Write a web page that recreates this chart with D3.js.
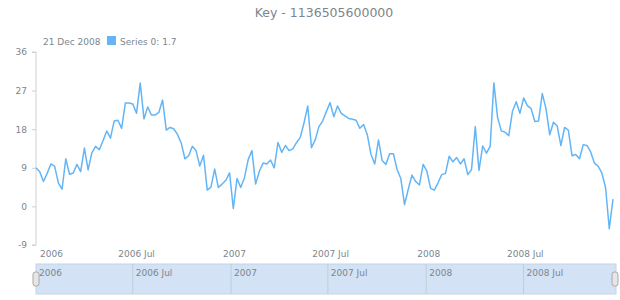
<!DOCTYPE html>
<html>
<head>
<meta charset="utf-8">
<script src="https://cdn.jsdelivr.net/npm/d3@7"></script>
<style>
body { margin: 0; background: #fff; }
text { font-family: "DejaVu Sans", Verdana, sans-serif; fill: #7c868e; }
</style>
</head>
<body>
<script>
var width = 620, height = 300;

// weekly series, first point 1 Jan 2006, last 21 Dec 2008
var startDate = new Date(2006, 0, 1);
var values = [
  9.0, 8.1, 5.8, 7.7, 9.9, 9.4, 5.5, 4.0, 11.1, 7.5, 7.8, 9.8, 8.1, 13.6, 8.5, 12.5,
  14.0, 13.2, 15.3, 17.6, 15.9, 19.9, 20.1, 18.2, 24.1, 24.1, 23.9, 21.7, 28.8, 20.4, 23.2, 21.3,
  21.3, 21.9, 24.8, 17.8, 18.4, 18.1, 16.8, 14.8, 11.1, 11.8, 14.0, 13.0, 9.4, 11.9, 3.8, 4.5,
  8.7, 4.4, 5.2, 6.1, 7.8, -0.5, 6.5, 4.4, 6.7, 10.9, 13.0, 5.2, 8.2, 10.1,
  9.9, 10.8, 9.0, 14.9, 12.6, 14.2, 13.0, 13.4, 14.9, 16.1, 19.5, 23.4, 13.7, 15.5, 18.6, 19.9,
  22.1, 24.2, 20.9, 23.4, 21.7, 21.1, 20.5, 20.3, 20.1, 18.2, 19.1, 16.7, 12.1, 9.9, 15.5, 10.7,
  9.8, 12.3, 12.3, 8.6, 6.5, 0.4, 4.0, 7.3, 5.8, 5.0, 9.8, 8.2, 4.2, 3.8, 5.5, 7.4,
  7.7, 11.7, 10.4, 11.4, 9.9, 11.1, 7.4, 8.6, 18.6, 8.4, 14.1, 12.4, 14.0, 28.8, 20.7, 17.6,
  17.3, 16.5, 22.2, 24.4, 21.7, 25.3, 23.5, 22.8, 19.8, 19.9, 26.3, 22.8, 16.7, 19.6, 18.8, 14.2,
  18.4, 17.8, 11.8, 12.1, 11.1, 14.4, 14.2, 12.7, 10.1, 9.4, 7.8, 4.4, -5.2, 1.7
];
var yTicks = [-9, 0, 9, 18, 27, 36];
var xTicks = [new Date(2006, 0, 1), new Date(2006, 6, 1), new Date(2007, 0, 1),
              new Date(2007, 6, 1), new Date(2008, 0, 1), new Date(2008, 6, 1)];
var titleText = "Key - 1136505600000";
var seriesName = "Series 0";

var data = values.map(function(v, i) {
  return { date: d3.timeDay.offset(startDate, i * 7), value: v };
});
var last = data[data.length - 1];

var svg = d3.select("body").append("svg")
    .attr("width", width)
    .attr("height", height);

var x = d3.scaleTime()
    .domain(d3.extent(data, function(d) { return d.date; }))
    .range([36, 613]);
var y = d3.scaleLinear()
    .domain([-9, 36])
    .range([245, 52]);

var tickFmt = function(d) {
  return d.getMonth() === 0 ? d3.timeFormat("%Y")(d) : d3.timeFormat("%Y %b")(d);
};

// title
svg.append("text")
    .attr("x", 324).attr("y", 17)
    .attr("text-anchor", "middle")
    .attr("font-size", 12.5)
    .text(titleText);

// legend
svg.append("text")
    .attr("x", 43).attr("y", 45)
    .attr("font-size", 9)
    .text(d3.timeFormat("%d %b %Y")(last.date));
svg.append("rect")
    .attr("x", 107).attr("y", 36)
    .attr("width", 9).attr("height", 9)
    .attr("fill", "#64b5f6");
svg.append("text")
    .attr("x", 120).attr("y", 45)
    .attr("font-size", 9)
    .text(seriesName + ": " + last.value);

// y axis
var yAxis = svg.append("g")
    .attr("transform", "translate(36,0)")
    .call(d3.axisLeft(y).tickValues(yTicks).tickSize(4).tickPadding(5)
      .tickFormat(function(d) { return String(d); }));
yAxis.select(".domain").attr("stroke", "#d0d0d0").attr("d", "M-4," + y(36) + "H0V" + y(-9) + "H-4");
yAxis.selectAll(".tick line").attr("stroke", "#d0d0d0");
yAxis.selectAll(".tick text").attr("font-size", 9).attr("fill", "#7c868e")
    .style("font-family", "DejaVu Sans, Verdana, sans-serif");

// x labels
svg.append("g").selectAll("text")
    .data(xTicks)
    .join("text")
    .attr("x", function(d, i) {
      if (i === 0) return x(d) + 4;
      return x(d) - (d.getMonth() === 0 ? 7 : 14);
    })
    .attr("y", 257)
    .attr("font-size", 9)
    .text(tickFmt);

// line
var line = d3.line()
    .x(function(d) { return x(d.date); })
    .y(function(d) { return y(d.value); });
svg.append("path")
    .datum(data)
    .attr("fill", "none")
    .attr("stroke", "#64b5f6")
    .attr("stroke-width", 1.5)
    .attr("stroke-linejoin", "round")
    .attr("d", line);

// scroller
var sx = d3.scaleTime().domain(x.domain()).range([36, 616]);
var scroller = svg.append("g");
scroller.append("rect")
    .attr("x", 36).attr("y", 264)
    .attr("width", 580).attr("height", 30)
    .attr("fill", "#d3e2f4")
    .attr("stroke", "#c4d4e8");
scroller.selectAll("line.sep")
    .data(xTicks.slice(1))
    .join("line")
    .attr("class", "sep")
    .attr("x1", function(d) { return sx(d); })
    .attr("x2", function(d) { return sx(d); })
    .attr("y1", 264).attr("y2", 294)
    .attr("stroke", "#bfcddd");
scroller.selectAll("text")
    .data(xTicks)
    .join("text")
    .attr("x", function(d) { return sx(d) + 3; })
    .attr("y", 276)
    .attr("font-size", 9)
    .text(tickFmt);
[33, 612].forEach(function(hx) {
  scroller.append("rect")
      .attr("x", hx).attr("y", 272)
      .attr("width", 6).attr("height", 14)
      .attr("rx", 2.5)
      .attr("fill", "#e6e6e6")
      .attr("stroke", "#a8a8a8");
});
</script>
</body>
</html>
